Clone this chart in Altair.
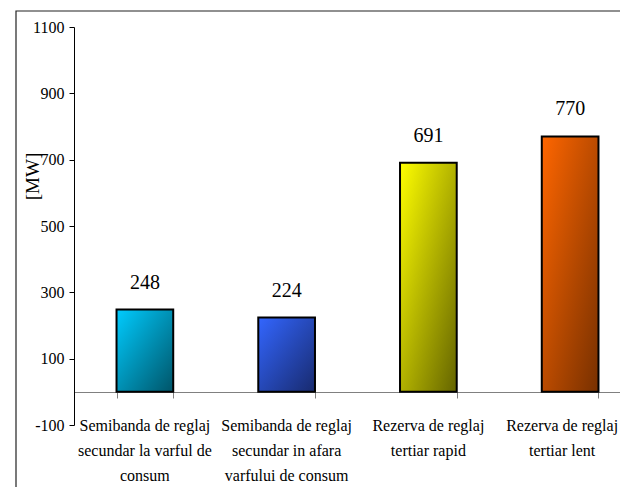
import altair as alt
import pandas as pd

categories = [
    "Semibanda de reglaj|secundar la varful de|consum",
    "Semibanda de reglaj|secundar in afara|varfului de consum",
    "Rezerva de reglaj|tertiar rapid",
    "Rezerva de reglaj|tertiar lent",
]
values = [248, 224, 691, 770]
light = ["#00CCFF", "#3366FF", "#FFFF00", "#FF6600"]
dark = ["#005468", "#182a6e", "#646400", "#773000"]
y_ticks = [-100, 100, 300, 500, 700, 900, 1100]
y_min, y_max = -100, 1100

df = pd.DataFrame({"cat": categories, "val": values})
FONT = "Liberation Serif"

x_enc = alt.X(
    "cat:N",
    sort=None,
    scale=alt.Scale(range=[0, 567], paddingInner=0.6, paddingOuter=0.3),
    axis=alt.Axis(
        title=None,
        labels=False,
        tickBand="extent",
        tickSize=6,
        tickColor="#808080",
        domainColor="#808080",
        offset=-33,
        grid=False,
    ),
)
y_enc = alt.Y(
    "val:Q",
    scale=alt.Scale(domain=[y_min, y_max], nice=False, zero=False),
    axis=alt.Axis(
        values=y_ticks,
        labelExpr="datum.value < 0 ? '-' + abs(datum.value) : '' + datum.value",
        title="[MW]",
        titleFont=FONT,
        titleFontSize=19,
        titleFontWeight="normal",
        titleColor="black",
        titleX=-42,
        titleY=149,
        titleAlign="center",
        titleBaseline="middle",
        labelFont=FONT,
        labelFontSize=16,
        labelColor="black",
        labelPadding=5,
        tickSize=5,
        tickColor="black",
        domainColor="black",
        grid=False,
    ),
)

base = alt.Chart(df)
layers = []
for c, lc, dc in zip(categories, light, dark):
    grad = alt.LinearGradient(
        gradient="linear",
        stops=[alt.GradientStop(color=lc, offset=0), alt.GradientStop(color=dc, offset=1)],
        x1=0, y1=0, x2=1, y2=1,
    )
    layers.append(
        base.transform_filter(alt.datum.cat == c)
        .mark_bar(color=grad, stroke="black", strokeWidth=2)
        .encode(x=x_enc, y=y_enc, y2=alt.datum(0))
    )

text = base.mark_text(font=FONT, fontSize=20, baseline="alphabetic", dy=-21, color="black").encode(
    x=x_enc, y=y_enc, text=alt.Text("val:Q")
)

# category labels (below the -100 level), drawn as text through the band scale
cat_labels = []
for i, c in enumerate(categories):
    dx = -8 if i == len(categories) - 1 else 0
    cat_labels.append(
        base.transform_filter(alt.datum.cat == c)
        .mark_text(
            font=FONT, fontSize=16, color="black", baseline="top", align="center",
            lineBreak="|", lineHeight=25, dy=-7, dx=dx,
        )
        .encode(x=x_enc, y=alt.datum(y_min, scale=alt.Scale(domain=[y_min, y_max], nice=False, zero=False)), text="cat:N")
    )

border = alt.Chart(alt.Data(values=[{"a": 1}])).mark_rect(
    fill=None, fillOpacity=0, stroke="#222222", strokeWidth=1.2
).encode(
    x=alt.value(-58), x2=alt.value(700), y=alt.value(-16), y2=alt.value(600)
)

chart = alt.layer(*layers, text, *cat_labels, border).properties(
    width=546,
    height=398,
    padding={"left": 66, "top": 19, "right": 0, "bottom": 62},
    autosize=alt.AutoSizeParams(type="none"),
).configure(font=FONT).configure_axis(
    labelFont=FONT, titleFont=FONT
).configure_view(stroke=None)

chart.save("out.html", embed_options={"renderer": "svg", "actions": False})
